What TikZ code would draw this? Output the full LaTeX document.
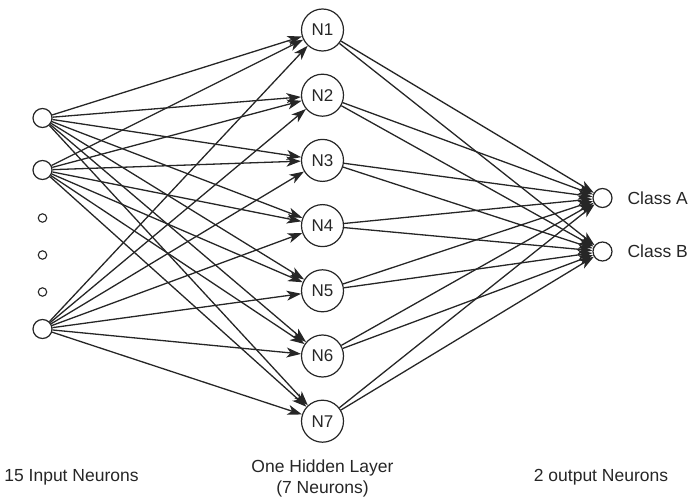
\documentclass[tikz,border=0pt]{standalone}
\usepackage{fontspec}
\setmainfont{Liberation Sans}
\usetikzlibrary{arrows.meta}
\begin{document}
\begin{tikzpicture}[x=1pt,y=-1pt,
  inneuron/.style={circle,draw=black!85,line width=1.2pt,minimum size=19pt,inner sep=0pt},
  dotneuron/.style={circle,draw=black!85,line width=1.1pt,minimum size=8.5pt,inner sep=0pt},
  hidneuron/.style={circle,draw=black!85,line width=1.2pt,minimum size=42pt,inner sep=0pt,font=\fontsize{17}{20}\selectfont,text=black!85},
  outneuron/.style={circle,draw=black!85,line width=1.2pt,minimum size=19pt,inner sep=0pt},
  link/.style={draw=black!85,line width=1.3pt,-{Stealth[length=14.5pt,width=10pt,inset=4pt]}},
  lbl/.style={font=\fontsize{17.5}{21}\selectfont,text=black!85}]
\useasboundingbox (0,0) rectangle (689,500);
% input layer
\node[inneuron] (i1) at (42.5,118) {};
\node[inneuron] (i2) at (42.5,170) {};
\node[inneuron] (i3) at (42.5,329) {};
\node[dotneuron] (d1) at (42.5,218) {};
\node[dotneuron] (d2) at (42.5,255) {};
\node[dotneuron] (d3) at (42.5,292) {};
% hidden layer
\foreach \k in {1,...,7}{
  \node[hidneuron] (h\k) at (322.5,{30+65.2*(\k-1)}) {N\k};
}
% output layer
\node[outneuron] (o1) at (602.5,198) {};
\node[outneuron] (o2) at (602.5,251.5) {};
\node[lbl,anchor=west] (ca) at (624,198) {Class A};
\node[lbl,anchor=west] (cb) at (624,251.5) {Class B};
% connections
\foreach \i in {1,2,3}{
  \foreach \k in {1,...,7}{
    \draw[link] (i\i) -- (h\k);
  }
}
\foreach \k in {1,...,7}{
  \foreach \o in {1,2}{
    \draw[link] (h\k) -- (o\o);
  }
}
% captions
\node[lbl] (c1) at (71.5,477.5) {15 Input Neurons};
\node[lbl,align=center] (c2) at (322.5,478) {One Hidden Layer\\(7 Neurons)};
\node[lbl] (c3) at (601,477.5) {2 output Neurons};
\end{tikzpicture}
\end{document}
